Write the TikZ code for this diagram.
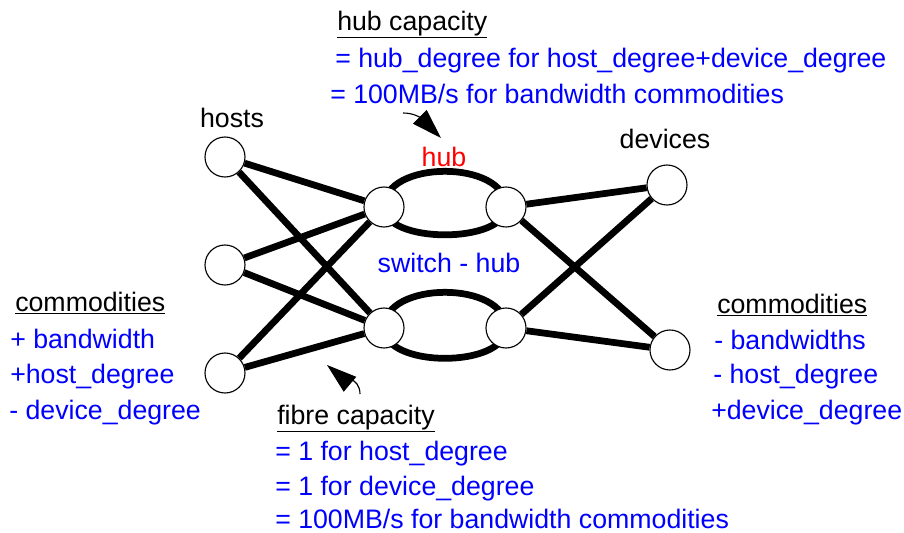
\documentclass[tikz,border=0pt]{standalone}
\usepackage{fontspec}
\setmainfont{Liberation Sans}
\usepackage{tikz}
\usetikzlibrary{arrows.meta,backgrounds}

\begin{document}
\begin{tikzpicture}[x=0.025cm, y=0.025cm,
    port/.style={circle, draw, line width=0.8pt, fill=white, minimum size=1cm, inner sep=0pt},
    fibre/.style={line width=4.8pt},
    pointer/.style={line width=0.8pt, -{Triangle[length=0.75cm, width=0.48cm]}},
    txt/.style={anchor=base west, inner sep=0pt, font=\fontsize{19}{23}\selectfont},
    note/.style={txt, text=blue}]

  \useasboundingbox (0, 0) rectangle (904, -533);

    % Hosts
    \node[port] (h1) at (225, -157) {};
    \node[port] (h2) at (225, -265) {};
    \node[port] (h3) at (225, -373) {};
    \node[txt, anchor=base] (hosts) at (232, -127) {hosts};

    % Hub and switch
    \node[port] (hubL) at (384, -207) {};
    \node[port] (hubR) at (506, -207) {};
    \node[port] (swL) at (384, -328) {};
    \node[port] (swR) at (506, -328) {};
    \node[txt, anchor=base, text=red] (hub) at (444, -166) {hub};
    \node[note, anchor=base] (swhub) at (449, -272) {switch - hub};

    % Devices
    \node[port] (d1) at (667, -185) {};
    \node[port] (d2) at (670, -350) {};
    \node[txt, anchor=base] (devices) at (665, -148) {devices};

    % Fibres
    \draw[fibre] (h1) -- (hubL);
    \draw[fibre] (h1) -- (swL);
    \draw[fibre] (h2) -- (hubL);
    \draw[fibre] (h2) -- (swL);
    \draw[fibre] (h3) -- (hubL);
    \draw[fibre] (h3) -- (swL);
    \draw[fibre] (hubR) -- (d1);
    \draw[fibre] (hubR) -- (d2);
    \draw[fibre] (swR) -- (d1);
    \draw[fibre] (swR) -- (d2);
    \begin{scope}[on background layer]
      \draw[fibre] (hubL.center) to[out=90, in=90] (hubR.center);
      \draw[fibre] (hubL.center) to[out=-90, in=-90, looseness=0.78] (hubR.center);
      \draw[fibre] (swL.center) to[out=90, in=90] (swR.center);
      \draw[fibre] (swL.center) to[out=-90, in=-90, looseness=0.85] (swR.center);
    \end{scope}

    % Hub capacity
    \node[txt] (hubcap) at (337, -30) {\underline{hub capacity}};
    \node[note] (hubcap1) at (335, -67) {= hub\_degree for host\_degree+device\_degree};
    \node[note] (hubcap2) at (330, -103) {= 100MB/s for bandwidth commodities};
    \coordinate (hubtail) at (403, -113);
    \coordinate (hubtip) at (441, -138);
    \draw[pointer] (hubtail) to[out=0, in=135] (hubtip);

    % Host commodities
    \node[txt] (hostcom) at (15, -311) {\underline{commodities}};
    \node[note] (hostcom1) at (10, -348) {+ bandwidth};
    \node[note] (hostcom2) at (10, -383) {+host\_degree};
    \node[note] (hostcom3) at (9, -419) {- device\_degree};

    % Device commodities
    \node[txt] (devcom) at (717, -313) {\underline{commodities}};
    \node[note] (devcom1) at (714, -349) {- bandwidths};
    \node[note] (devcom2) at (713, -383) {- host\_degree};
    \node[note] (devcom3) at (711, -419) {+device\_degree};

    % Fibre capacity
    \node[txt] (fibcap) at (277, -424) {\underline{fibre capacity}};
    \node[note] (fibcap1) at (275, -460) {= 1 for host\_degree};
    \node[note] (fibcap2) at (275, -495) {= 1 for device\_degree};
    \node[note] (fibcap3) at (275, -528) {= 100MB/s for bandwidth commodities};
    \coordinate (fibtail) at (360, -394);
    \coordinate (fibtip) at (327, -365);
    \draw[pointer] (fibtail) to[out=90, in=-40] (fibtip);

\end{tikzpicture}
\end{document}
